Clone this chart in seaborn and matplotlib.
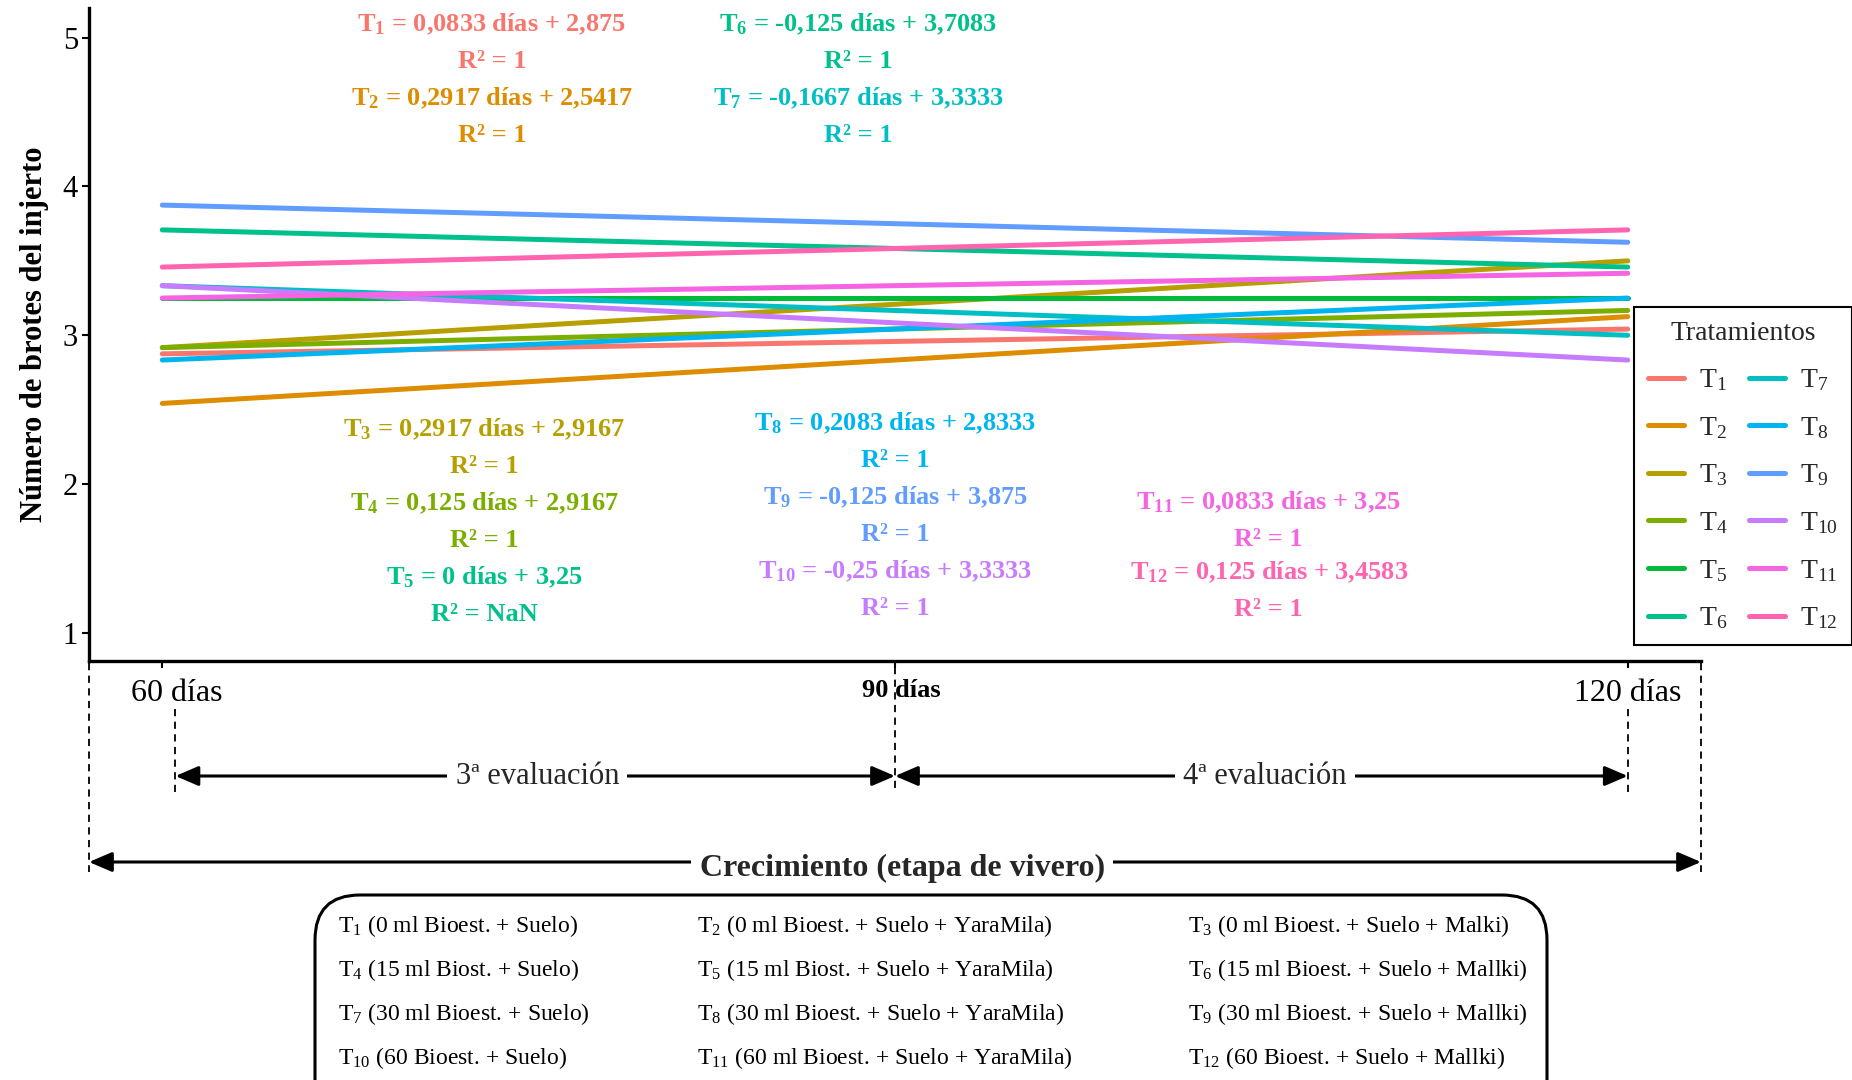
import matplotlib
matplotlib.use("Agg")
import matplotlib.pyplot as plt
import matplotlib.transforms as mtransforms
from matplotlib.patches import FancyArrowPatch, FancyBboxPatch
from matplotlib.lines import Line2D
import numpy as np
import pandas as pd
import seaborn as sns

sns.set_theme(style="white")
plt.rcParams["font.family"] = ["Liberation Serif", "DejaVu Serif"]
plt.rcParams["mathtext.fontset"] = "custom"
plt.rcParams["mathtext.rm"] = "Liberation Serif"
plt.rcParams["mathtext.bf"] = "Liberation Serif:bold"
plt.rcParams["mathtext.it"] = "Liberation Serif:italic"

# Fitted linear trends of shoot count per treatment (x = evaluation step)
treatments = ["T1", "T2", "T3", "T4", "T5", "T6", "T7", "T8", "T9", "T10", "T11", "T12"]
slopes = [0.0833, 0.2917, 0.2917, 0.125, 0.0, -0.125, -0.1667, 0.2083, -0.125, -0.25, 0.0833, 0.125]
intercepts = [2.875, 2.5417, 2.9167, 2.9167, 3.25, 3.7083, 3.3333, 2.8333, 3.875, 3.3333, 3.25, 3.4583]
r2_values = ["1", "1", "1", "1", "NaN", "1", "1", "1", "1", "1", "1", "1"]
steps = [0, 1, 2]
day_labels = ["60 días", "90 días", "120 días"]
colors = ["#F8766D", "#DE8C00", "#B79F00", "#7CAE00", "#00BA38", "#00C08B",
          "#00BFC4", "#00B4F0", "#619CFF", "#C77CFF", "#F564E3", "#FF64B0"]
label_colors = ["#F8766D", "#DE8C00", "#B79F00", "#7CAE00", "#00C08B", "#00C08B",
                "#00BFC4", "#00B4F0", "#619CFF", "#C77CFF", "#F564E3", "#FF64B0"]

# Equation label anchors (data coordinates) per treatment
label_x = [0.45, 0.45, 0.44, 0.44, 0.44, 0.95, 0.95, 1.0, 1.0, 1.0, 1.51, 1.51]
label_y = [5.09, 4.59, 2.37, 1.87, 1.37, 5.09, 4.59, 2.41, 1.91, 1.41, 1.88, 1.405]

descriptions = [
    "(0 ml Bioest. + Suelo)", "(0 ml Bioest. + Suelo + YaraMila)", "(0 ml Bioest. + Suelo + Malki)",
    "(15 ml Biost. + Suelo)", "(15 ml Biost. + Suelo + YaraMila)", "(15 ml Bioest. + Suelo + Mallki)",
    "(30 ml Bioest. + Suelo)", "(30 ml Bioest. + Suelo + YaraMila)", "(30 ml Bioest. + Suelo + Mallki)",
    "(60 Bioest. + Suelo)", "(60 ml Bioest. + Suelo + YaraMila)", "(60 Bioest. + Suelo + Mallki)",
]

rows = []
for t, m, b in zip(treatments, slopes, intercepts):
    for s in steps:
        rows.append({"trat": t, "paso": s, "brotes": b + m * s})
df = pd.DataFrame(rows)

W, H = 1852, 1080
fig = plt.figure(figsize=(W / 100, H / 100), dpi=100)
ax = fig.add_axes([89 / W, 1 - 661 / H, (1701 - 89) / W, (661 - 8) / H])

sns.lineplot(data=df, x="paso", y="brotes", hue="trat", hue_order=treatments,
             palette=colors, linewidth=3.6, legend=False, ax=ax)

ax.set_xlim(-0.1, 2.1)
ax.set_ylim(0.81, 5.2)
ax.set_yticks([1, 2, 3, 4, 5])
ax.set_yticklabels(["1", "2", "3", "4", "5"], fontsize=22)
ax.set_xticks(steps)
ax.set_xticklabels(day_labels, fontsize=23)
ax.tick_params(axis="both", direction="out", length=5, width=1.5, color="black",
               labelcolor="black", bottom=True, left=True)
ax.tick_params(axis="x", pad=8)
ax.tick_params(axis="y", pad=3)
xt = ax.get_xticklabels()
xt[0].set_transform(xt[0].get_transform() + mtransforms.ScaledTranslation(0.14, 0, fig.dpi_scale_trans))
xt[1].set_transform(xt[1].get_transform() + mtransforms.ScaledTranslation(0.06, 0, fig.dpi_scale_trans))
xt[1].set_fontweight("bold")
xt[1].set_fontsize(19)
ax.set_xlabel("")
ax.set_ylabel("Número de brotes del injerto", fontsize=22, fontweight="bold",
              color="black", labelpad=10)
for side in ["top", "right"]:
    ax.spines[side].set_visible(False)
for side in ["left", "bottom"]:
    ax.spines[side].set_linewidth(2.4)
    ax.spines[side].set_color("black")
ax.grid(False)


def fmt(v):
    return f"{v:g}".replace(".", ",")


for i, t in enumerate(treatments):
    n = t[1:]
    eq = f"$\\mathbf{{T_{{{n}}}}}$ = {fmt(slopes[i])} días + {fmt(intercepts[i])}"
    ax.text(label_x[i], label_y[i], eq, color=label_colors[i], fontsize=19,
            fontweight="bold", ha="center", va="center")
    ax.text(label_x[i], label_y[i] - 0.25, f"R² = {r2_values[i]}", color=label_colors[i],
            fontsize=19, fontweight="bold", ha="center", va="center")

# Legend
handles = [Line2D([0], [0], color=c, lw=3.6) for c in colors]
labels = [f"$\\mathrm{{T_{{{t[1:]}}}}}$" for t in treatments]
leg = fig.legend(handles, labels, title="Tratamientos", ncol=2, loc="upper left",
                 bbox_to_anchor=(1634 / W, 1 - 307 / H), borderaxespad=0,
                 fontsize=20, title_fontsize=20,
                 frameon=True, fancybox=False, edgecolor="black", framealpha=1,
                 handlelength=1.3, handletextpad=0.55, columnspacing=0.75,
                 labelspacing=0.78, borderpad=0.5)
leg.get_frame().set_linewidth(1.5)


def fy(py):
    return 1 - py / H


tdata = mtransforms.blended_transform_factory(ax.transData, fig.transFigure)
taxes = mtransforms.blended_transform_factory(ax.transAxes, fig.transFigure)
dash = dict(color="black", lw=1.3, ls=(0, (4, 3)), clip_on=False)

# Stage guides beneath the axis
ax.plot([0, 0], [fy(663), fy(872)], transform=taxes, **dash)
ax.plot([1, 1], [fy(663), fy(872)], transform=taxes, **dash)
ax.plot([0.018, 0.018], [fy(709), fy(792)], transform=tdata, **dash)
ax.plot([1, 1], [fy(667), fy(792)], transform=tdata, **dash)
ax.plot([2, 2], [fy(709), fy(792)], transform=tdata, **dash)


def arrow(x0, x1, y, trans):
    a = FancyArrowPatch((x0, fy(y)), (x1, fy(y)), transform=trans,
                        arrowstyle="<|-|>,head_length=0.7,head_width=0.3",
                        mutation_scale=20, lw=2.2, color="black",
                        shrinkA=0, shrinkB=0, clip_on=False)
    ax.add_patch(a)


arrow(0.018, 1, 776, tdata)
arrow(1, 2, 776, tdata)
arrow(0, 1, 862, taxes)

box = dict(facecolor="white", edgecolor="none", pad=6)
ax.text(0.512, fy(776), "3ª evaluación", transform=tdata, ha="center", va="center",
        fontsize=22, bbox=box, clip_on=False)
ax.text(1.505, fy(776), "4ª evaluación", transform=tdata, ha="center", va="center",
        fontsize=22, bbox=box, clip_on=False)
ax.text(0.5045, fy(868), "Crecimiento (etapa de vivero)", transform=taxes, ha="center",
        va="center", fontsize=23, fontweight="bold", bbox=box, clip_on=False)

# Treatment key in a rounded frame
frame = FancyBboxPatch((315, -60), 1232, 1080 - 895 + 60,
                       boxstyle="round,pad=0,rounding_size=45",
                       transform=mtransforms.IdentityTransform(),
                       lw=2.2, edgecolor="black", facecolor="none")
fig.add_artist(frame)
col_x = [338, 697, 1188]
row_y = [926, 970, 1014, 1058]
for k, (t, d) in enumerate(zip(treatments, descriptions)):
    r, c = divmod(k, 3)
    fig.text(col_x[c] / W, fy(row_y[r]), f"$\\mathrm{{T_{{{t[1:]}}}}}$ {d}",
             fontsize=17, ha="left", va="center", color="black")

fig.savefig("out.png", dpi=100)
